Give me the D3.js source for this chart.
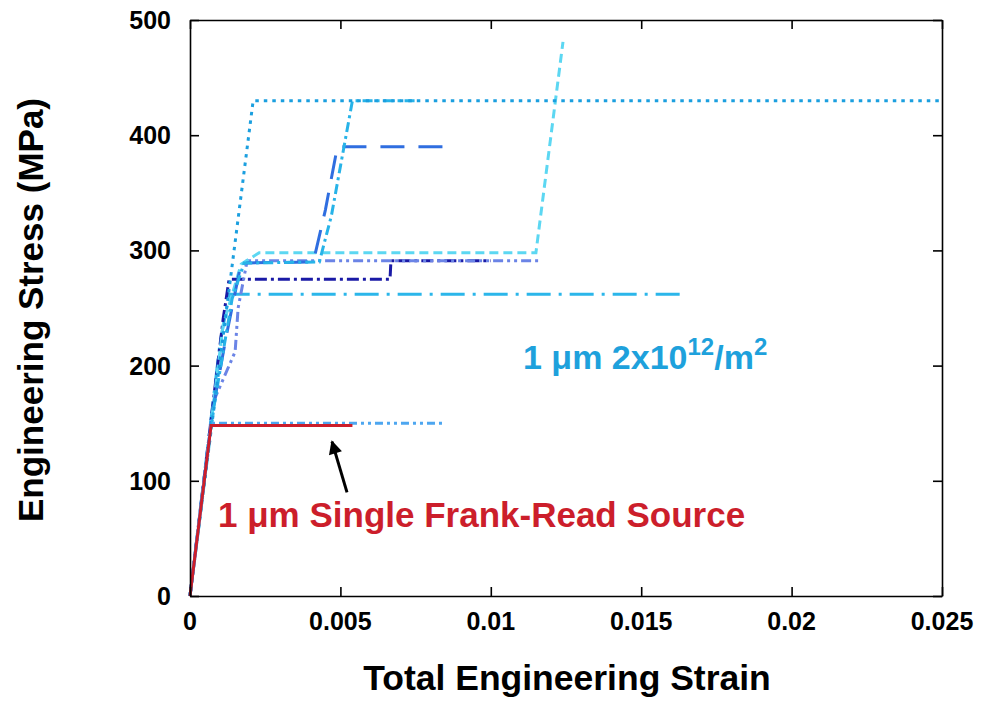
<!DOCTYPE html>
<html>
<head>
<meta charset="utf-8">
<script src="https://cdn.jsdelivr.net/npm/d3@7"></script>
<style>
  html, body { margin: 0; padding: 0; background: #fff; }
  svg text { font-family: "Liberation Sans", Arial, sans-serif; font-weight: bold; }
</style>
</head>
<body>
<svg id="chart" width="981" height="704"></svg>
<script>
// Stress–strain curves: [strain, stress (MPa)]
const frankReadSingle = [[0, 0], [0.0007, 148], [0.0054, 148]];
const run150 = [[0, 0], [0.0007, 150], [0.0084, 150]];
const run430Flat = [[0, 0], [0.0021, 430], [0.025, 430]];
const run430Short = [[0, 0], [0.0008, 165], [0.0014, 258], [0.0018, 289], [0.0043, 290], [0.0047, 330], [0.0054, 430], [0.0075, 430]];
const run390 = [[0, 0], [0.00075, 160], [0.0012, 225], [0.0017, 289], [0.0041, 290], [0.0045, 335], [0.0049, 390], [0.0085, 390]];
const run298 = [[0, 0], [0.0011, 235], [0.0017, 288], [0.0023, 298], [0.0115, 298], [0.0124, 481]];
const run291 = [[0, 0], [0.0008, 170], [0.0015, 212], [0.0016, 250], [0.0019, 291], [0.0116, 291]];
const run275 = [[0, 0], [0.0011, 240], [0.0013, 275], [0.00665, 275], [0.00668, 291], [0.0100, 291]];
const run262 = [[0, 0], [0.0010, 220], [0.0013, 262], [0.0165, 262]];

const xTicks = [0, 0.005, 0.01, 0.015, 0.02, 0.025];
const xTickLabels = ["0", "0.005", "0.01", "0.015", "0.02", "0.025"];
const yTicks = [0, 100, 200, 300, 400, 500];
const yTickLabels = ["0", "100", "200", "300", "400", "500"];

// Annotation arrow: tail and tip, in data units
const arrowTail = [0.00522, 90];
const arrowTip = [0.00472, 134];

const series = [
  { data: run262,      color: "#2bb6ea", dash: "24,8,3,8" },
  { data: run275,      color: "#1a1aa6", dash: "12,4,3,4" },
  { data: run291,      color: "#6b84e6", dash: "10,4,3,4,3,4" },
  { data: run298,      color: "#5cd7f2", dash: "9,5" },
  { data: run390,      color: "#2f6ee0", dash: "24,14" },
  { data: run430Short, color: "#27b3e8", dash: "10,4,3,4" },
  { data: run430Flat,  color: "#1b9fdf", dash: "3.5,5" },
  { data: run150,      color: "#4da6f0", dash: "8,4,3,4,3,4" },
  { data: frankReadSingle, color: "#cc1e2b", dash: null }
];

const svg = d3.select("#chart");
const plotLeft = 190, plotRight = 942, plotTop = 20, plotBottom = 596;

const x = d3.scaleLinear().domain([0, 0.025]).range([plotLeft, plotRight]);
const y = d3.scaleLinear().domain([0, 500]).range([plotBottom, plotTop]);

const line = d3.line().x(d => x(d[0])).y(d => y(d[1]));

// curves
const plot = svg.append("g");
series.forEach(s => {
  plot.append("path")
    .attr("d", line(s.data))
    .attr("fill", "none")
    .attr("stroke", s.color)
    .attr("stroke-width", 3)
    .attr("stroke-linejoin", "miter")
    .attr("stroke-dasharray", s.dash);
});

// frame with inward ticks on all four sides
const tickLen = 9;
const axisStyle = g => {
  g.select(".domain").attr("stroke", "#000").attr("stroke-width", 1.6);
  g.selectAll(".tick line").attr("stroke", "#000").attr("stroke-width", 1.6);
};
svg.append("g").attr("transform", `translate(0,${plotBottom})`)
  .call(d3.axisBottom(x).tickValues(xTicks).tickSize(-tickLen).tickSizeOuter(0).tickFormat(""))
  .call(axisStyle);
svg.append("g").attr("transform", `translate(0,${plotTop})`)
  .call(d3.axisTop(x).tickValues(xTicks).tickSize(-tickLen).tickSizeOuter(0).tickFormat(""))
  .call(axisStyle);
svg.append("g").attr("transform", `translate(${plotLeft},0)`)
  .call(d3.axisLeft(y).tickValues(yTicks).tickSize(-tickLen).tickSizeOuter(0).tickFormat(""))
  .call(axisStyle);
svg.append("g").attr("transform", `translate(${plotRight},0)`)
  .call(d3.axisRight(y).tickValues(yTicks).tickSize(-tickLen).tickSizeOuter(0).tickFormat(""))
  .call(axisStyle);

// tick labels
svg.append("g").selectAll("text").data(xTicks).join("text")
  .attr("x", d => x(d)).attr("y", plotBottom + 34)
  .attr("text-anchor", "middle").attr("font-size", 25).attr("fill", "#000")
  .text((d, i) => xTickLabels[i]);
svg.append("g").selectAll("text").data(yTicks).join("text")
  .attr("x", plotLeft - 19).attr("y", d => y(d) + 9)
  .attr("text-anchor", "end").attr("font-size", 25).attr("fill", "#000")
  .text((d, i) => yTickLabels[i]);

// axis titles
svg.append("text")
  .attr("x", 567).attr("y", 690)
  .attr("text-anchor", "middle").attr("font-size", 35.5).attr("fill", "#000")
  .text("Total Engineering Strain");
svg.append("text")
  .attr("transform", `translate(43,${(plotTop + plotBottom) / 2 + 2}) rotate(-90)`)
  .attr("text-anchor", "middle").attr("font-size", 35).attr("fill", "#000")
  .text("Engineering Stress (MPa)");

// curve annotations
const densityLabel = svg.append("text")
  .attr("x", 523).attr("y", 369)
  .attr("font-size", 34).attr("fill", "#1ea1dc");
densityLabel.append("tspan").text("1 \u03bcm 2x10");
densityLabel.append("tspan").attr("font-size", 24).attr("dy", -14).text("12");
densityLabel.append("tspan").attr("dy", 14).text("/m");
densityLabel.append("tspan").attr("font-size", 24).attr("dy", -14).text("2");

svg.append("text")
  .attr("x", 218).attr("y", 527)
  .attr("font-size", 35).attr("fill", "#cc1e2b")
  .text("1 \u03bcm Single Frank-Read Source");

// arrow pointing at the single-source plateau
svg.append("defs").append("marker")
  .attr("id", "arrowhead").attr("viewBox", "0 0 10 10")
  .attr("refX", 9).attr("refY", 5)
  .attr("markerWidth", 5).attr("markerHeight", 4.5)
  .attr("markerUnits", "strokeWidth").attr("orient", "auto")
  .append("path").attr("d", "M0,0 L10,5 L0,10 Z").attr("fill", "#000");
svg.append("line")
  .attr("x1", x(arrowTail[0])).attr("y1", y(arrowTail[1]))
  .attr("x2", x(arrowTip[0])).attr("y2", y(arrowTip[1]))
  .attr("stroke", "#000").attr("stroke-width", 3)
  .attr("marker-end", "url(#arrowhead)");
</script>
</body>
</html>
